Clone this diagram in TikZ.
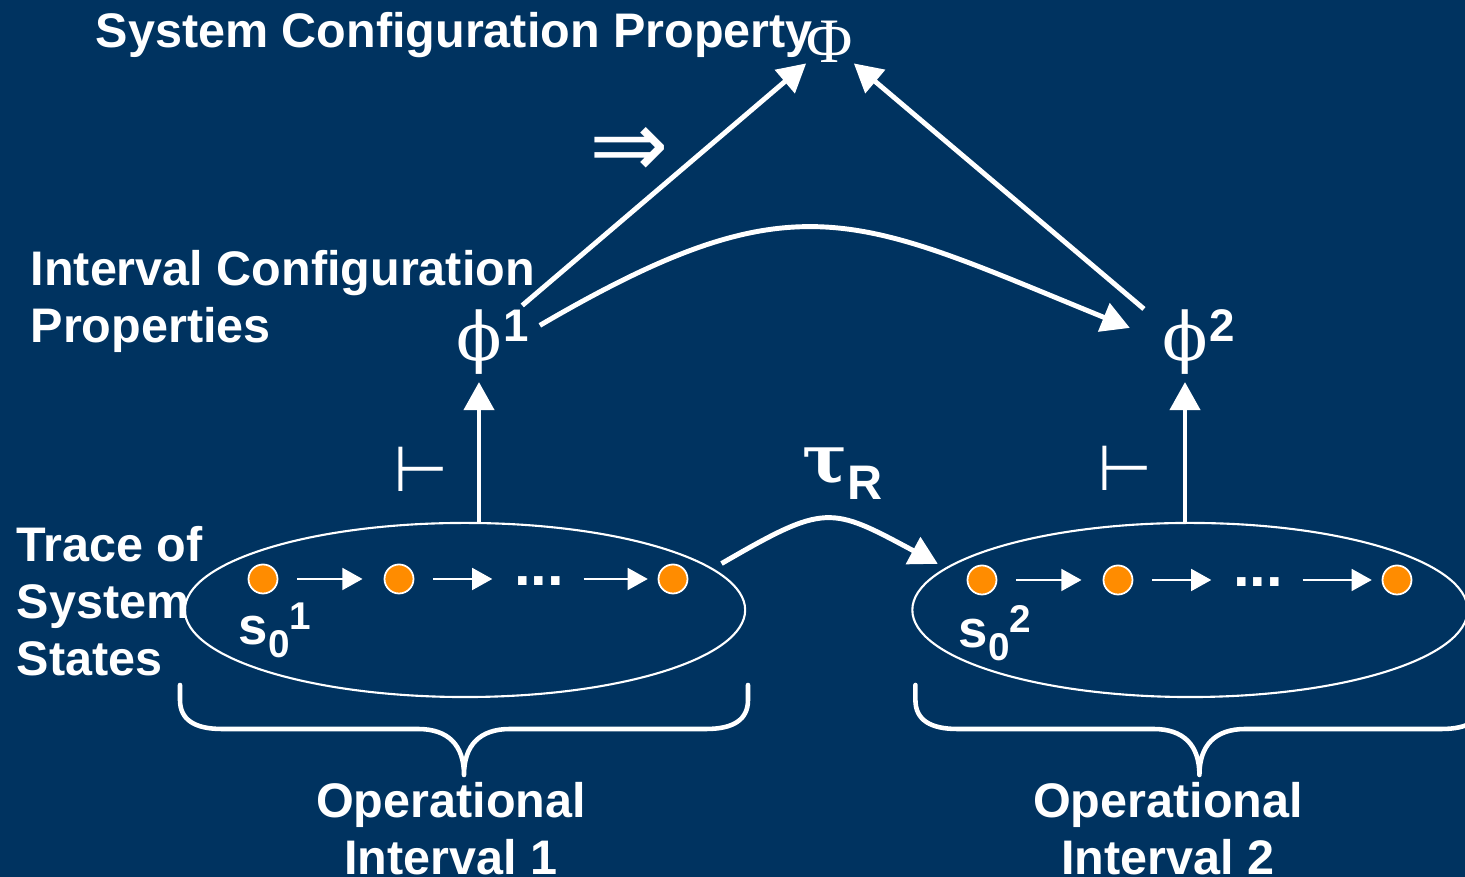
\documentclass[tikz,border=0pt]{standalone}
\usepackage{fontspec}
\setmainfont{Liberation Sans}
\newfontfamily\greekfont{DejaVu Serif}
\newfontfamily\timesfont{Liberation Serif}
\newfontfamily\symfont{DejaVu Sans}
\usepackage{tikz}
\usetikzlibrary{shapes.geometric, arrows.meta, positioning, calc}
\definecolor{mynavy}{RGB}{0,51,96}
\definecolor{myorange}{RGB}{255,140,0}
\tikzset{
  lbl/.style={text=white, font=\fontsize{13.8}{16.2}\selectfont\bfseries, inner sep=0pt},
  statelbl/.style={text=white, font=\fontsize{15}{15}\selectfont\bfseries, inner sep=0pt},
  trace/.style={ellipse, draw=white, line width=0.6pt, minimum height=1.74cm, inner sep=0pt},
  state/.style={circle, draw=white, fill=myorange, line width=0.5pt,
    minimum size=0.29cm, inner sep=0pt},
  dotsnode/.style={text=white, font=\fontsize{17}{17}\selectfont\bfseries, inner sep=0pt},
  phinode/.style={text=white, font=\fontsize{19}{19}\selectfont\greekfont, inner sep=0pt},
  phisup/.style={text=white, font=\fontsize{13}{13}\selectfont\bfseries,
    inner sep=0pt, anchor=north west},
  turnstile/.style={text=white, font=\fontsize{18}{18}\selectfont\symfont, inner sep=0pt},
  bigarrow/.style={-{Triangle[length=8pt, width=8.5pt]}, line width=1.4pt, white},
  smallarrow/.style={-{Triangle[length=5.7pt, width=6.2pt]}, line width=0.6pt, white,
    shorten <=5.4pt, shorten >=6pt},
  brace/.style={line width=1.3pt, white, line cap=round, line join=round}
}
\newcommand{\subsz}{\fontsize{11}{11}\selectfont}

\begin{document}
\begin{tikzpicture}[x=0.01cm, y=-0.01cm]
  \useasboundingbox (0,0) rectangle (1465,877);
  \clip (0,0) rectangle (1465,877);
  \fill[mynavy] (0,0) rectangle (1465,877);

  % labels on the left
  \node[lbl, anchor=base west] (sysprop) at (95,48) {System Configuration Property};
  \node[lbl, anchor=north west, align=left] (intprop) at (30,250) {Interval Configuration\\Properties};
  \node[lbl, anchor=north west, align=left] (tracelbl) at (16,526) {Trace of\\System\\States};

  % properties
  \node[text=white, font=\fontsize{18}{18}\selectfont\timesfont, inner sep=0pt] (Phi) at (830,42) {Φ};
  \node[phinode, label={[phisup, name=phi1sup]north east:1}] (phi1) at (479,342) {ϕ};
  \node[phinode, label={[phisup, name=phi2sup]north east:2}] (phi2) at (1185,342) {ϕ};
  \node[turnstile, font=\fontsize{27}{27}\selectfont\symfont] (impl) at (629,152) {⇒};
  \node[turnstile] (vd1) at (421,469) {⊢};
  \node[turnstile] (vd2) at (1125,468) {⊢};
  \node[lbl, anchor=base west] (tauR) at (802,483) {{\greekfont\fontsize{19}{19}\selectfont τ}\raisebox{-4.8pt}{R}};

  % operational intervals
  \node[trace, minimum width=5.6cm] (trace1) at (465,610) {};
  \node[trace, minimum width=5.55cm] (trace2) at (1190,610) {};

  \node[state] (d11) at (263,579) {};
  \node[state] (d12) at (399,579) {};
  \node[dotsnode, anchor=base] (dots1) at (539,586) {...};
  \node[state] (d13) at (673,579) {};
  \node[statelbl, anchor=base west] (s01) at (238,645) {s\raisebox{-3.7pt}{\subsz 0}\raisebox{4.3pt}{\subsz 1}};

  \node[state] (d21) at (982,580) {};
  \node[state] (d22) at (1118,580) {};
  \node[dotsnode, anchor=base] (dots2) at (1258,587) {...};
  \node[state] (d23) at (1397,580) {};
  \node[statelbl, anchor=base west] (s02) at (958,648) {s\raisebox{-3.7pt}{\subsz 0}\raisebox{4.3pt}{\subsz 2}};

  \draw[smallarrow] (d11) -- (d12);
  \draw[smallarrow] (d12) -- (dots1.west |- d12);
  \draw[smallarrow, shorten >=2.8pt] (dots1.east |- d13) -- (d13);
  \draw[smallarrow] (d21) -- (d22);
  \draw[smallarrow] (d22) -- (dots2.west |- d22);
  \draw[smallarrow, shorten >=2.8pt] (dots2.east |- d23) -- (d23);

  % connectors
  \draw[bigarrow] (phi1.south |- trace1.north) -- ([yshift=-2pt]phi1.south);
  \draw[bigarrow] (phi2.south |- trace2.north) -- ([yshift=-2pt]phi2.south);
  \draw[bigarrow] ([shift={(-2pt,1pt)}]phi1sup.north east) -- (Phi.south west);
  \draw[bigarrow] ([xshift=-5pt]phi2.north west) -- (Phi.south east);
  \draw[bigarrow] ([xshift=3pt]phi1sup.east) .. controls (797,175) and (855,216) .. ([shift={(-9pt,4pt)}]phi2.west);
  \draw[bigarrow] ([xshift=5pt]trace1.11) .. controls (826,503) and (830,506) .. ([xshift=-4.2pt]trace2.169);

  % braces
  \draw[brace] (180,685) -- (180,700) .. controls (180,720) and (195,729) .. (222,729)
    -- (418,729) .. controls (448,729) and (464,745) .. (464,775)
    .. controls (464,745) and (480,729) .. (510,729) -- (706,729)
    .. controls (733,729) and (748,720) .. (748,700) -- (748,685);
  \begin{scope}[xshift=7.35cm]
    \draw[brace] (180,685) -- (180,700) .. controls (180,720) and (195,729) .. (222,729)
      -- (418,729) .. controls (448,729) and (464,745) .. (464,775)
      .. controls (464,745) and (480,729) .. (510,729) -- (706,729)
      .. controls (733,729) and (748,720) .. (748,700) -- (748,685);
  \end{scope}
  \node[lbl, anchor=north, align=center] (opint1) at (451,782) {Operational\\Interval 1};
  \node[lbl, anchor=north, align=center] (opint2) at (1168,782) {Operational\\Interval 2};
\end{tikzpicture}
\end{document}
